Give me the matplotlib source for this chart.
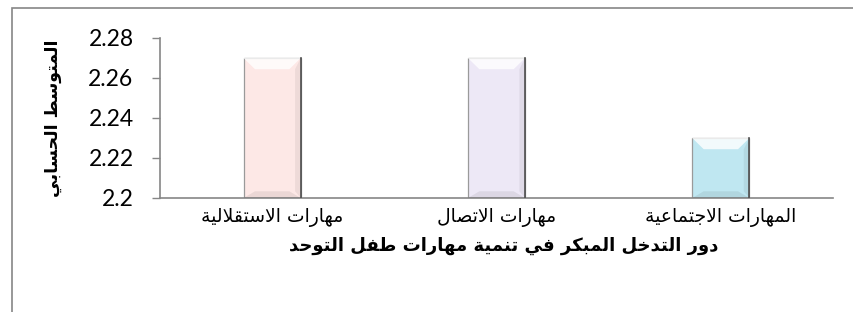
import matplotlib
matplotlib.use("Agg")
import matplotlib.pyplot as plt
from matplotlib.patches import Rectangle, Polygon

# --- data ---
categories = ["مهارات الاستقلالية", "مهارات الاتصال", "المهارات الاجتماعية"]
values = [2.27, 2.27, 2.23]
bar_colors = ["#fde8e6", "#ede8f6", "#bfe7f1"]
yticks = [2.2, 2.22, 2.24, 2.26, 2.28]
ytick_labels = ["2.2", "2.22", "2.24", "2.26", "2.28"]
y_title = "المتوسط الحسابي"
x_title = "دور التدخل المبكر في تنمية مهارات طفل التوحد"

# --- tiny arabic shaper (matplotlib has no bidi/shaping) ---
# letter -> isolated presentation form; dual-joining letters have 4 forms
FOUR = {"ب": 0xFE8F, "ت": 0xFE95, "ث": 0xFE99, "ج": 0xFE9D, "ح": 0xFEA1, "خ": 0xFEA5,
        "س": 0xFEB1, "ش": 0xFEB5, "ص": 0xFEB9, "ض": 0xFEBD, "ط": 0xFEC1, "ظ": 0xFEC5,
        "ع": 0xFEC9, "غ": 0xFECD, "ف": 0xFED1, "ق": 0xFED5, "ك": 0xFED9, "ل": 0xFEDD,
        "م": 0xFEE1, "ن": 0xFEE5, "ه": 0xFEE9, "ي": 0xFEF1}
TWO = {"ا": 0xFE8D, "ة": 0xFE93, "د": 0xFEA9, "ذ": 0xFEAB, "ر": 0xFEAD, "ز": 0xFEAF,
       "و": 0xFEED, "ى": 0xFEEF}


def shape(text):
    out = []
    chars = list(text)
    i = 0
    prev_joins = False
    while i < len(chars):
        c = chars[i]
        nxt = chars[i + 1] if i + 1 < len(chars) else ""
        if c == "ل" and nxt == "ا":
            out.append(chr(0xFEFC if prev_joins else 0xFEFB))
            prev_joins = False
            i += 2
            continue
        if c in FOUR:
            base = FOUR[c]
            next_joins = nxt in FOUR or nxt in TWO
            if prev_joins and next_joins:
                g = base + 3
            elif next_joins:
                g = base + 2
            elif prev_joins:
                g = base + 1
            else:
                g = base
            out.append(chr(g))
            prev_joins = next_joins
        elif c in TWO:
            out.append(chr(TWO[c] + (1 if prev_joins else 0)))
            prev_joins = False
        else:
            out.append(c)
            prev_joins = False
        i += 1
    return "".join(reversed(out))


fig = plt.figure(figsize=(8.54, 3.12), dpi=100)
ax = fig.add_axes([160 / 854, 1 - 198 / 312, (833 - 160) / 854, (198 - 38) / 312])

x = range(len(categories))
width = 0.255
bars = ax.bar(x, [v - yticks[0] for v in values], width=width, bottom=yticks[0],
              color=bar_colors, edgecolor="#9a9a9a", linewidth=0.9, zorder=2)

# soft bevel look: lighter top, darker bottom/sides, derived from bar geometry
for b in bars:
    x0, y0 = b.get_x(), b.get_y()
    w, h = b.get_width(), b.get_height()
    dx = w * 0.2
    dy = (yticks[-1] - yticks[0]) * 0.07
    ax.add_patch(Polygon([(x0, y0 + h), (x0 + w, y0 + h), (x0 + w - dx, y0 + h - dy),
                          (x0 + dx, y0 + h - dy)], closed=True, facecolor="white",
                         alpha=0.8, edgecolor="none", zorder=3))
    ax.add_patch(Polygon([(x0, y0), (x0 + w, y0), (x0 + w - dx, y0 + dy * 0.6),
                          (x0 + dx, y0 + dy * 0.6)], closed=True, facecolor="#000000",
                         alpha=0.07, edgecolor="none", zorder=3))
    ax.add_patch(Polygon([(x0 + w, y0), (x0 + w, y0 + h), (x0 + w - dx * 0.5, y0 + h - dy),
                          (x0 + w - dx * 0.5, y0 + dy * 0.6)], closed=True, facecolor="#000000",
                         alpha=0.06, edgecolor="none", zorder=3))
    ax.plot([x0 + w, x0 + w], [y0, y0 + h], color="#505050", linewidth=1.2, zorder=4)

ax.set_xlim(-0.5, len(categories) - 0.5)
ax.set_ylim(yticks[0], yticks[-1])
ax.set_yticks(yticks)
ax.set_yticklabels(ytick_labels, fontsize=16.5, family="Lato")
ax.set_xticks(list(x))
ax.set_xticklabels([shape(c) for c in categories], fontsize=13.5, family="DejaVu Sans")
ax.tick_params(axis="x", length=0, pad=7)
ax.tick_params(axis="y", length=6, width=1, color="#868686", pad=13)

for side in ["top", "right"]:
    ax.spines[side].set_visible(False)
for side in ["left", "bottom"]:
    ax.spines[side].set_color("#868686")
    ax.spines[side].set_linewidth(1.2)

ax.set_ylabel(shape(y_title), fontsize=12.5, fontweight="bold", family="DejaVu Sans")
ax.yaxis.set_label_coords(-0.146, 0.5)
ax.set_xlabel(shape(x_title), fontsize=13, fontweight="bold", family="DejaVu Sans")
ax.xaxis.set_label_coords(0.51, -0.24)

# outer chart border (left and top visible)
fig.add_artist(Rectangle((12 / 854, -0.1), 2, 1.1 - 8 / 312, transform=fig.transFigure,
                         fill=False, edgecolor="#868686", linewidth=1.2))

fig.savefig("out.png", dpi=100)
